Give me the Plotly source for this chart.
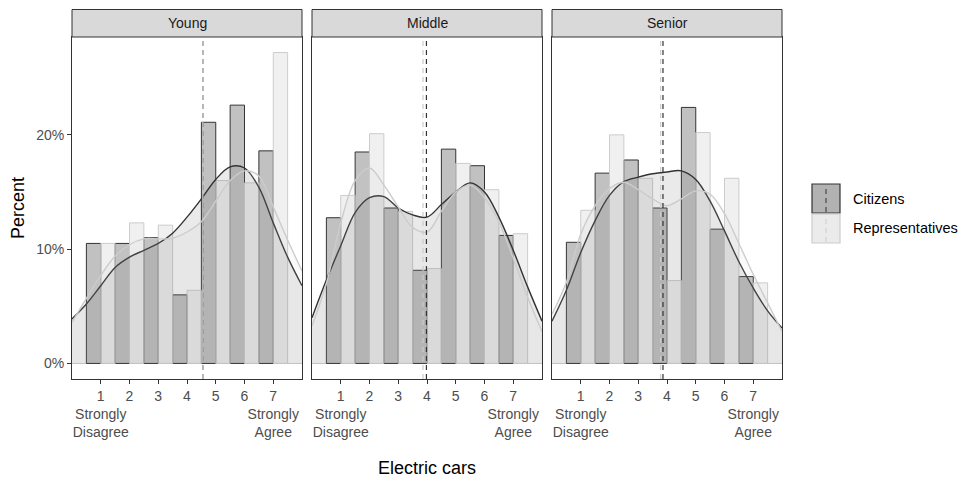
import plotly.graph_objects as go
from plotly.subplots import make_subplots

# ---------------- data ----------------
categories = [1, 2, 3, 4, 5, 6, 7]
tick_labels = ["1<br>Strongly<br>Disagree", "2", "3", "4", "5", "6", "7<br>Strongly<br>Agree"]
panels = ["Young", "Middle", "Senior"]
groups = ["Citizens", "Representatives"]

# histogram percentages (per panel, per group)
young_citizens = [10.5, 10.5, 11.0, 6.0, 21.1, 22.6, 18.6]
young_reps = [10.5, 12.3, 12.1, 6.4, 16.0, 15.8, 27.2]
middle_citizens = [12.75, 18.5, 13.6, 8.15, 18.75, 17.3, 11.2]
middle_reps = [14.7, 20.1, 13.3, 8.3, 17.5, 15.2, 11.35]
senior_citizens = [10.6, 16.65, 17.8, 13.6, 22.4, 11.75, 7.6]
senior_reps = [13.4, 20.0, 16.2, 7.25, 20.2, 16.2, 7.05]

# density curves
density_x = [0, 0.5, 1, 1.5, 2, 2.5, 3, 3.5, 4, 4.5, 5, 5.5, 6, 6.5, 7, 7.5, 8]
young_citizens_dens = [3.9, 5.2, 6.8, 8.4, 9.3, 9.9, 10.5, 11.4, 12.8, 14.4, 16.1, 17.2, 17.1, 15.4, 12.3, 9.3, 6.8]
young_reps_dens = [3.6, 5.7, 7.7, 9.4, 10.4, 10.9, 10.9, 10.95, 11.5, 12.4, 14.2, 16.0, 16.85, 16.4, 13.7, 10.8, 8.1]
middle_citizens_dens = [4.0, 7.3, 10.3, 13.2, 14.5, 14.6, 13.6, 13.0, 12.8, 13.9, 15.0, 15.8, 15.0, 12.8, 9.9, 6.7, 3.7]
middle_reps_dens = [3.3, 7.0, 12.3, 16.0, 17.1, 15.6, 13.7, 11.9, 11.5, 13.3, 15.0, 15.6, 14.5, 12.4, 9.2, 5.8, 2.8]
senior_citizens_dens = [3.7, 6.4, 9.7, 12.5, 14.7, 15.9, 16.3, 16.6, 16.75, 16.85, 16.1, 14.2, 11.6, 8.9, 6.6, 4.6, 3.1]
senior_reps_dens = [4.3, 7.1, 11.3, 13.8, 15.3, 15.85, 15.2, 14.4, 13.8, 14.4, 15.1, 14.8, 13.1, 10.5, 7.8, 5.3, 2.8]

# group means (dashed lines)
citizens_means = [4.55, 3.98, 3.86]
reps_means = [4.55, 3.86, 3.78]

y_ticks = [0, 10, 20]
y_tick_labels = ["0%", "10%", "20%"]

hist = {
    "Young": (young_citizens, young_reps),
    "Middle": (middle_citizens, middle_reps),
    "Senior": (senior_citizens, senior_reps),
}
dens = {
    "Young": (young_citizens_dens, young_reps_dens),
    "Middle": (middle_citizens_dens, middle_reps_dens),
    "Senior": (senior_citizens_dens, senior_reps_dens),
}

# ---------------- style ----------------
FONT = "Liberation Sans, Arial, sans-serif"
dark = "#333333"
light = "#cccccc"
bar_fill = ["rgba(51,51,51,0.3)", "rgba(204,204,204,0.3)"]
dens_fill = ["rgba(51,51,51,0.1)", "rgba(204,204,204,0.1)"]
line_col = [dark, light]
offsets = [-0.5, 0.0]

W, H = 968, 480
L, R, T, B = 72, 186, 37, 101
pw = W - L - R
ph = H - T - B
gap = 10
panel_w = (pw - 2 * gap) / 3

fig = make_subplots(rows=1, cols=3, shared_yaxes=True)

all_vals = young_citizens + young_reps + middle_citizens + middle_reps + senior_citizens + senior_reps
ymax = max(all_vals)
pad = 0.05 * ymax
yrange = [-pad, ymax + pad]

for i, p in enumerate(panels):
    col = i + 1
    for g in range(2):
        fig.add_trace(go.Bar(
            x=categories, y=hist[p][g], width=0.5, offset=offsets[g],
            marker=dict(color=bar_fill[g], line=dict(color=line_col[g], width=1)),
            showlegend=False, hoverinfo="skip"), row=1, col=col)
    for g in range(2):
        fig.add_trace(go.Scatter(
            x=density_x, y=dens[p][g], mode="lines",
            line=dict(color=line_col[g], width=1.4, shape="spline", smoothing=1.0),
            fill="tozeroy", fillcolor=dens_fill[g],
            showlegend=False, hoverinfo="skip"), row=1, col=col)

    d0 = (panel_w + gap) * i / pw
    d1 = d0 + panel_w / pw
    xa = "xaxis" if i == 0 else f"xaxis{col}"
    fig.layout[xa].update(
        domain=[d0, d1], range=[0, 8], tickmode="array", tickvals=categories, ticktext=tick_labels,
        tickangle=0,
        ticks="outside", ticklen=4, tickcolor=dark, tickwidth=1,
        showgrid=False, zeroline=False, showline=True, mirror=True, linecolor=dark, linewidth=1,
        tickfont=dict(family=FONT, size=14, color="#4d4d4d"))
    ya = "yaxis" if i == 0 else f"yaxis{col}"
    fig.layout[ya].update(
        range=yrange, tickmode="array", tickvals=y_ticks, ticktext=y_tick_labels,
        ticks="outside" if i == 0 else "", ticklen=4, tickcolor=dark, tickwidth=1,
        showticklabels=(i == 0),
        showgrid=False, zeroline=False, showline=True, mirror=True, linecolor=dark, linewidth=1,
        tickfont=dict(family=FONT, size=14, color="#4d4d4d"))

    xref = "x" if i == 0 else f"x{col}"
    yref = "y" if i == 0 else f"y{col}"
    # zero baseline
    fig.add_shape(type="line", xref=f"{xref} domain", yref=yref, x0=0, x1=1, y0=0, y1=0,
                  line=dict(color=light, width=1), layer="below")
    # mean lines
    for g, m in enumerate([citizens_means[i], reps_means[i]]):
        fig.add_shape(type="line", xref=xref, yref=f"{yref} domain", x0=m, x1=m, y0=0, y1=1,
                      line=dict(color=line_col[g], width=1.2, dash="5px,4px"), layer="above")
    # strip
    strip_top = 1 + (T - 9.5) / ph
    fig.add_shape(type="rect", xref="paper", yref="paper", x0=d0, x1=d1, y0=1, y1=strip_top,
                  fillcolor="#d9d9d9", line=dict(color=dark, width=1), layer="above")
    fig.add_annotation(x=(d0 + d1) / 2, y=(1 + strip_top) / 2, xref="paper", yref="paper",
                       text=p, showarrow=False, xanchor="center", yanchor="middle",
                       font=dict(family=FONT, size=14, color="#1a1a1a"))

# axis titles
fig.add_annotation(x=0.5, y=(H - B - 468) / ph, xref="paper", yref="paper", text="Electric cars",
                   showarrow=False, xanchor="center", yanchor="middle",
                   font=dict(family=FONT, size=18, color="black"))
fig.add_annotation(x=(18 - L) / pw, y=(H - B - 208) / ph, xref="paper", yref="paper", text="Percent",
                   showarrow=False, textangle=-90, xanchor="center", yanchor="middle",
                   font=dict(family=FONT, size=18, color="black"))

# legend (manual)
def px_x(v):
    return (v - L) / pw

def px_y(v):
    return (H - B - v) / ph

legend_fill = ["#b2b2b2", "#ebebeb"]
boxes = [(184, 213), (214, 243)]
for g in range(2):
    y_top, y_bot = boxes[g]
    fig.add_shape(type="rect", xref="paper", yref="paper", x0=px_x(812), x1=px_x(840),
                  y0=px_y(y_bot), y1=px_y(y_top), fillcolor=legend_fill[g],
                  line=dict(color=line_col[g], width=1.2))
    fig.add_shape(type="line", xref="paper", yref="paper", x0=px_x(826), x1=px_x(826),
                  y0=px_y(y_bot - 1), y1=px_y(y_top + 1),
                  line=dict(color=line_col[g], width=1, dash="5px,4px"))
    fig.add_annotation(x=px_x(851), y=px_y((y_top + y_bot) / 2), xref="paper", yref="paper",
                       text=groups[g], showarrow=False, xanchor="left", yanchor="middle",
                       font=dict(family=FONT, size=14.5, color="black"))

fig.update_layout(
    width=W, height=H, margin=dict(l=L, r=R, t=T, b=B),
    paper_bgcolor="white", plot_bgcolor="white",
    barmode="overlay", showlegend=False,
    font=dict(family=FONT),
)

fig.write_html("out.html")
